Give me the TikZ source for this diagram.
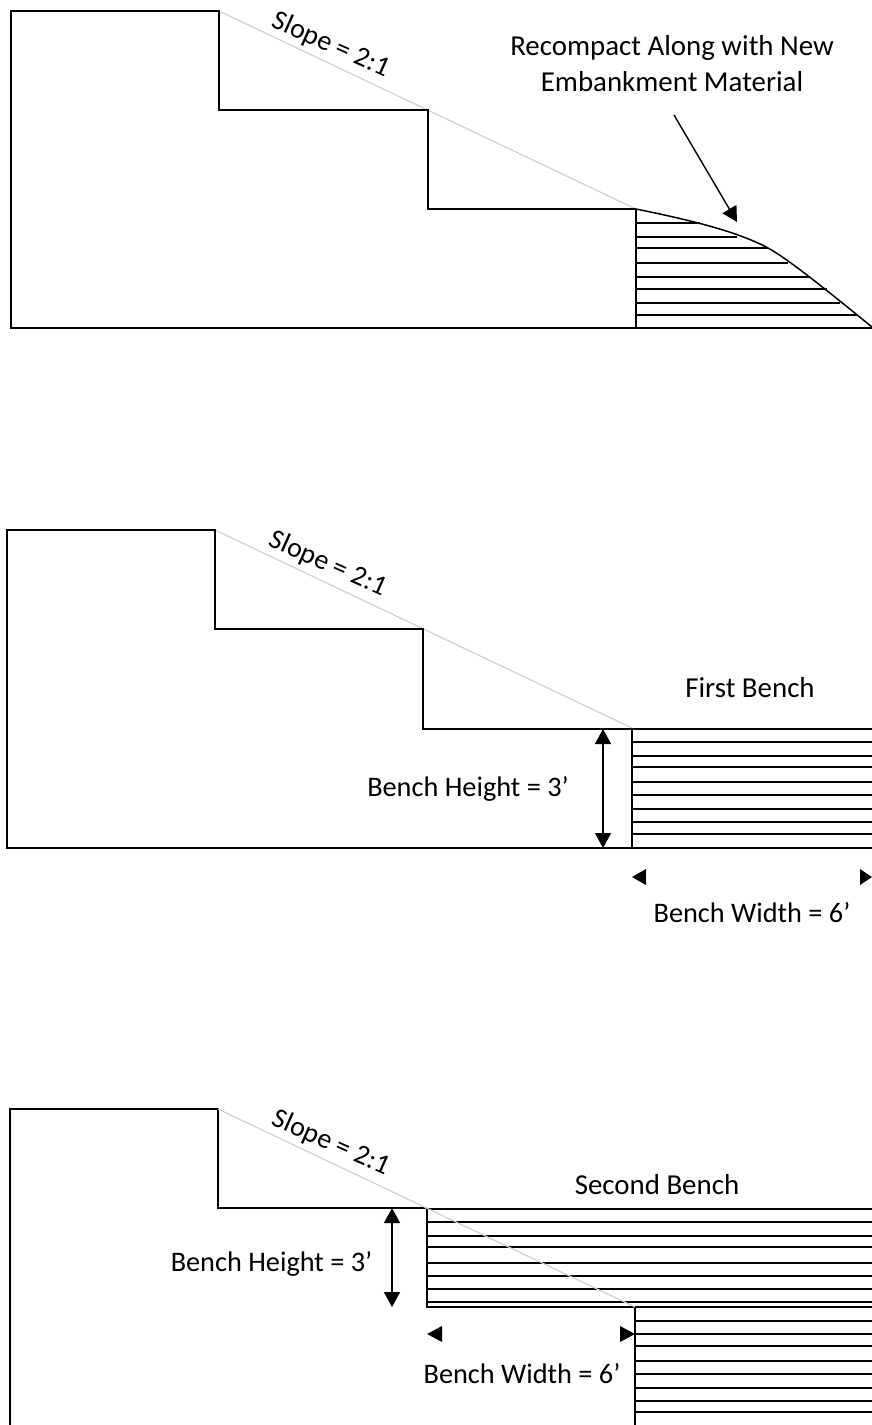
\documentclass[tikz,border=0pt]{standalone}
\usepackage{fontspec}
\setmainfont{Carlito}
\usetikzlibrary{arrows.meta}
\definecolor{slopegrey}{RGB}{208,208,208}
\tikzset{
  x=1pt,y=-1pt,
  ground/.style={draw=black,line width=1.5pt,line join=miter},
  hatchline/.style={draw=black,line width=1.2pt},
  slopeline/.style={draw=slopegrey,line width=1.2pt},
  dim/.style={draw=black,line width=1.4pt,{Triangle[length=15pt,width=16pt]}-{Triangle[length=15pt,width=16pt]}},
  lead/.style={draw=black,line width=1.4pt,-{Triangle[length=15pt,width=16pt]}},
  lbl/.style={inner sep=0pt,font=\fontsize{28.3}{35.5}\selectfont,align=center,text=black},
  lblb/.style={inner sep=0pt,font=\fontsize{28.9}{35.5}\selectfont,align=center,text=black},
  slopelbl/.style={inner sep=0pt,font=\fontsize{28}{32}\selectfont,rotate=-24,text=black},
  dart/.style={fill=black,draw=none},
}
\begin{document}
\begin{tikzpicture}
\useasboundingbox (0,0) rectangle (872,1425);
% panel 1
\draw[slopeline] (219,11) -- (636,209);
\draw[ground] (636,209) -- (428,209) -- (428,110) -- (219,110) -- (219,11) -- (11,11) -- (11,328) -- (872,328);
\draw[ground] (636,209) -- (636,328);
\draw[ground] (636,209) .. controls (680,218) and (735,230) .. (768,248) .. controls (790,260) and (835,297) .. (872,327);
\foreach \y/\e in {223/700,237/737,248/768,263/788,277/810,289/827,303/840,315/858}
  \draw[hatchline] (636,\y) -- (\e,\y);
\node[slopelbl] (s1) at (331,45) {Slope = 2:1};
\node[lblb] (t1) at (672,63.5) {Recompact Along with New\\Embankment Material};
\coordinate (a1s) at (674,115);
\coordinate (a1e) at (737,222);
\draw[lead] (a1s) -- (a1e);
% panel 2
\draw[slopeline] (215,530) -- (632,728);
\draw[ground] (872,729) -- (423,729) -- (423,629) -- (215,629) -- (215,530) -- (7,530) -- (7,848) -- (872,848);
\draw[ground] (632,729) -- (632,848);
\foreach \y in {742,756,767,782,795,809,822,834}
  \draw[hatchline] (632,\y) -- (872,\y);
\coordinate (d2t) at (603,729);
\coordinate (d2b) at (603,848);
\draw[dim] (d2t) -- (d2b);
\fill[dart] (632,877) -- (646,869) -- (646,885) -- cycle;
\fill[dart] (872,877) -- (860,869) -- (860,885) -- cycle;
\node[slopelbl] (s2) at (328,564) {Slope = 2:1};
\node[lblb] (f2) at (750,688) {First Bench};
\node[lbl] (h2) at (468,789) {Bench Height = 3’};
\node[lbl] (w2) at (752,913) {Bench Width = 6’};
% panel 3
\draw[ground] (427,1208) -- (218,1208) -- (218,1109) -- (10,1109) -- (10,1425);
\draw[ground] (872,1209) -- (427,1209) -- (427,1307) -- (872,1307);
\draw[ground] (635,1307) -- (635,1425);
\foreach \y in {1222,1236,1247,1263,1276,1289,1302}
  \draw[hatchline] (427,\y) -- (872,\y);
\foreach \y in {1321,1334,1346,1361,1374,1388,1401,1412}
  \draw[hatchline] (635,\y) -- (872,\y);
\draw[slopeline] (218,1109) -- (635,1307);
\coordinate (d3t) at (392,1208);
\coordinate (d3b) at (392,1307);
\draw[dim] (d3t) -- (d3b);
\fill[dart] (427,1334) -- (442,1326) -- (442,1342) -- cycle;
\fill[dart] (635,1334) -- (620,1326) -- (620,1342) -- cycle;
\node[slopelbl] (s3) at (331,1143) {Slope = 2:1};
\node[lblb] (f3) at (657,1185) {Second Bench};
\node[lbl] (h3) at (271.5,1264) {Bench Height = 3’};
\node[lbl] (w3) at (522,1374) {Bench Width = 6’};
\end{tikzpicture}
\end{document}
